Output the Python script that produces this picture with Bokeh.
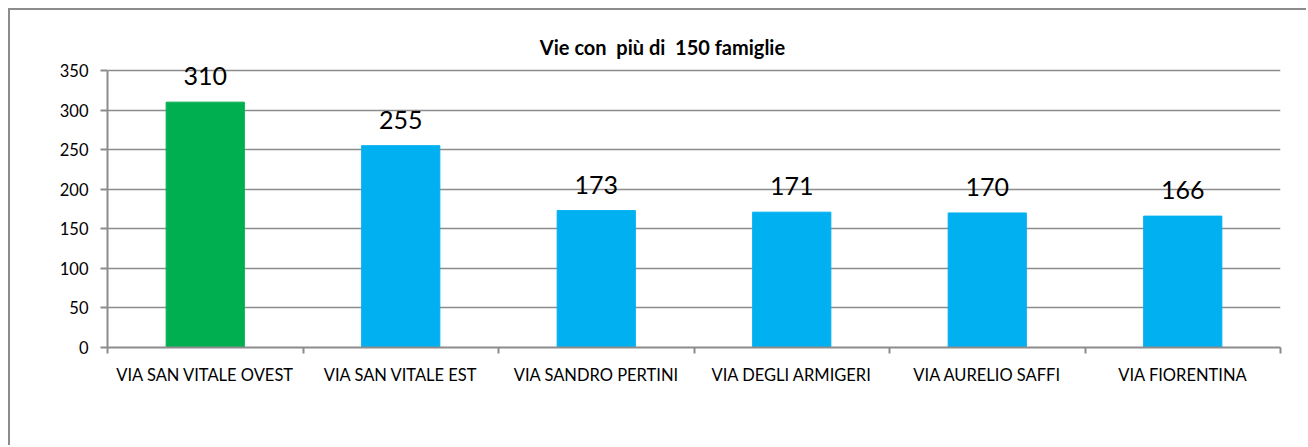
from bokeh.plotting import figure
from bokeh.models import ColumnDataSource, LabelSet, Label, FixedTicker, Range1d
from bokeh.core.properties import value
from bokeh.embed import file_html
from bokeh.resources import INLINE

categories = ["VIA SAN VITALE OVEST", "VIA SAN VITALE EST", "VIA SANDRO PERTINI",
              "VIA DEGLI ARMIGERI", "VIA AURELIO SAFFI", "VIA FIORENTINA"]
values = [310, 255, 173, 171, 170, 166]
colors = ["#00B050", "#00B0F0", "#00B0F0", "#00B0F0", "#00B0F0", "#00B0F0"]
title_text = "Vie con \u00a0più di \u00a0150 famiglie"
y_ticks = [0, 50, 100, 150, 200, 250, 300, 350]

FONT = "Lato"
GRID = "#8c8c8c"

W, H = 1298, 437
Y_MAX = 350
# frame extends to canvas top so labels/title are not clipped; axis bounded at 350
Y_TOP = Y_MAX * 337 / 277

xs = [i + 0.5 for i in range(len(categories))]
src = ColumnDataSource(dict(x=xs, top=values, color=colors,
                            label=[str(v) for v in values]))

p = figure(width=W, height=H, output_backend="svg", toolbar_location=None,
           x_range=Range1d(0, len(categories)), y_range=Range1d(0, Y_TOP),
           min_border_left=97, min_border_right=28, min_border_top=0,
           min_border_bottom=100)
p.styles = {"margin-left": "8px", "margin-top": "8px",
            "border-left": "2px solid #8c8c8c", "border-top": "2px solid #8c8c8c"}
p.outline_line_color = None
p.background_fill_color = "white"
p.border_fill_color = "white"

p.vbar(x="x", top="top", width=0.4, color="color", source=src)

p.add_layout(LabelSet(x="x", y="top", text="label", source=src, y_offset=17,
                      text_align="center", text_baseline="alphabetic",
                      text_font=value(FONT), text_font_size="25px", text_color="black"))

# axes
p.xaxis.ticker = FixedTicker(ticks=xs, minor_ticks=list(range(len(categories) + 1)))
p.xaxis.major_label_overrides = {x: c for x, c in zip(xs, categories)}
p.xaxis.major_tick_out = 0
p.xaxis.major_tick_in = 0
p.xaxis.minor_tick_out = 6
p.xaxis.minor_tick_in = 0
p.xaxis.minor_tick_line_color = GRID
p.xaxis.minor_tick_line_width = 2
p.xaxis.axis_line_color = GRID
p.xaxis.axis_line_width = 2
p.xaxis.major_label_text_font = FONT
p.xaxis.major_label_text_font_size = "16.5px"
p.xaxis.major_label_text_color = "black"
p.xaxis.major_label_standoff = 11

p.yaxis.ticker = FixedTicker(ticks=y_ticks)
p.yaxis.bounds = (0, Y_MAX)
p.yaxis.minor_tick_line_color = None
p.yaxis.major_tick_out = 7
p.yaxis.major_tick_in = 0
p.yaxis.major_tick_line_color = GRID
p.yaxis.major_tick_line_width = 2
p.yaxis.axis_line_color = GRID
p.yaxis.axis_line_width = 2
p.yaxis.major_label_text_font = FONT
p.yaxis.major_label_text_font_size = "16.5px"
p.yaxis.major_label_text_color = "black"
p.yaxis.major_label_standoff = 12

p.xgrid.grid_line_color = None
p.ygrid.grid_line_color = GRID
p.ygrid.grid_line_width = 1.5

# screen units here are relative to the frame's bottom-left corner
p.add_layout(Label(x=555, y=301, x_units="screen", y_units="screen",
                   text=title_text, text_align="center", text_baseline="alphabetic",
                   text_font=FONT, text_font_size="20px", text_font_style="bold",
                   text_color="black"))

open("out.html", "w").write(file_html(p, INLINE))
